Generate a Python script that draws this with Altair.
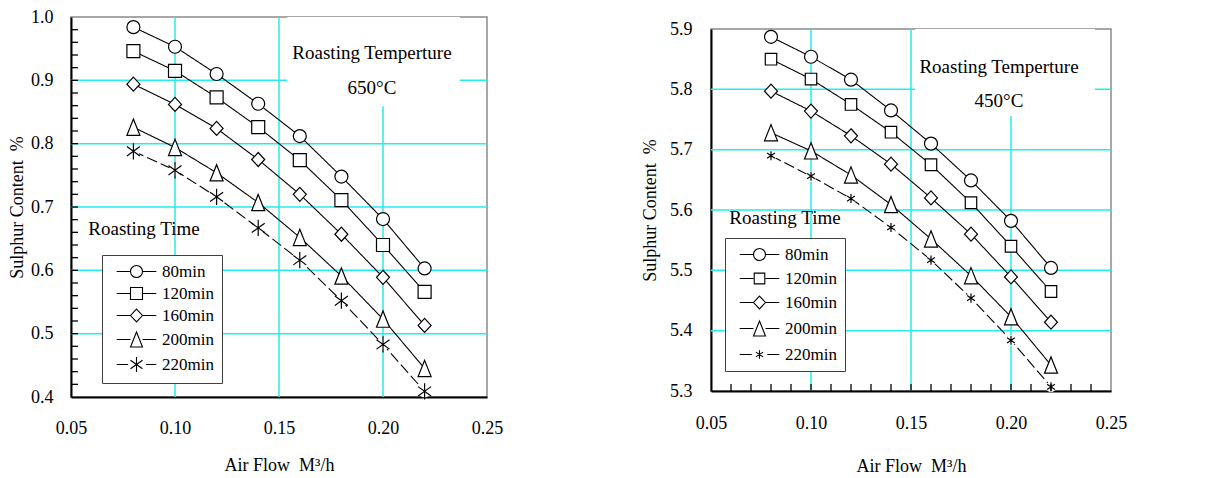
import altair as alt
import pandas as pd

# Air flow (M^3/h) at which each sample was taken
flow = [0.08, 0.10, 0.12, 0.14, 0.16, 0.18, 0.20, 0.22]
times = ["80min", "120min", "160min", "200min", "220min"]

# Sulphur content (%) after roasting at 650 °C
s650_80 = [0.984, 0.953, 0.910, 0.863, 0.812, 0.748, 0.681, 0.603]
s650_120 = [0.946, 0.915, 0.873, 0.826, 0.774, 0.711, 0.640, 0.566]
s650_160 = [0.894, 0.862, 0.824, 0.775, 0.720, 0.657, 0.589, 0.513]
s650_200 = [0.826, 0.794, 0.754, 0.707, 0.652, 0.591, 0.523, 0.445]
s650_220 = [0.788, 0.758, 0.716, 0.667, 0.616, 0.552, 0.483, 0.409]

# Sulphur content (%) after roasting at 450 °C
s450_80 = [5.887, 5.854, 5.816, 5.765, 5.710, 5.649, 5.582, 5.504]
s450_120 = [5.850, 5.817, 5.775, 5.729, 5.675, 5.612, 5.540, 5.465]
s450_160 = [5.797, 5.764, 5.723, 5.676, 5.620, 5.560, 5.489, 5.414]
s450_200 = [5.728, 5.698, 5.658, 5.609, 5.552, 5.491, 5.423, 5.343]
s450_220 = [5.690, 5.656, 5.619, 5.571, 5.517, 5.454, 5.384, 5.307]

x_ticks = [0.05, 0.10, 0.15, 0.20, 0.25]
x_grid = [0.10, 0.15, 0.20]
y_ticks_650 = [0.4, 0.5, 0.6, 0.7, 0.8, 0.9, 1.0]
y_grid_650 = [0.5, 0.6, 0.7, 0.8, 0.9]
y_minor_650 = [round(0.40 + 0.02 * i, 2) for i in range(1, 30)]
y_ticks_450 = [5.3, 5.4, 5.5, 5.6, 5.7, 5.8, 5.9]
y_grid_450 = [5.4, 5.5, 5.6, 5.7, 5.8]
x_minor_450 = [round(0.05 + 0.01 * i, 2) for i in range(1, 20)]

FONT = "Liberation Serif"
CYAN = "#22EEF0"
NBSP = "\u00a0"

# marker outlines (unit paths, scaled by the symbol size)
CIRCLE = "M-1,0A1,1 0 1,1 1,0A1,1 0 1,1 -1,0Z"
SQUARE = "M-1,-1L1,-1L1,1L-1,1Z"
SQUARE_S = "M-0.88,-0.9L0.88,-0.9L0.88,0.9L-0.88,0.9Z"
DIAMOND = "M0,-1.08L1,0L0,1.08L-1,0Z"
TRIANGLE = "M0,-1.25L1,1.25L-1,1.25Z"
STAR_L = "M0,-1.25L0,1.25M-1,-0.72L1,0.72M-1,0.72L1,-0.72"
STAR_S = "M0,-0.7L0,0.7M-0.6,-0.4L0.6,0.4M-0.6,0.4L0.6,-0.4"
# minor tick glyphs: a short stroke pointing into the plot
TICK_RIGHT = "M0,0L2,0"
TICK_UP = "M0,0L0,-2"


def lead(path, gap_l=1.0, gap_r=1.0, reach=3.3):
    """Legend glyph: a short line run through the marker."""
    return f"M{-reach},0L{-gap_l},0M{gap_r},0L{reach},0" + path


def panel(series, ydom, yticks, ygrid, temp_label, box, temp_pos, time_pos,
          markers, legend_marks, msize, mask_size, legend_xy, w, h,
          y_minor=None, x_minor=None, ylab_pad=18, ytitle_pad=4,
          xlab_pad=22, xtitle_pad=19, row_pad=4):
    rows = []
    for t, vals in zip(times, series):
        for f, v in zip(flow, vals):
            rows.append({"flow": f, "sulphur": v, "time": t})
    df = pd.DataFrame(rows)
    base = alt.Chart(df)

    xdom = [0.05, 0.25]
    xs = alt.Scale(domain=xdom, nice=False, zero=False)
    ys = alt.Scale(domain=ydom, nice=False, zero=False)

    common = dict(labelFont=FONT, titleFont=FONT, labelFontSize=18, titleFontSize=18,
                  titleFontWeight="normal", labelColor="black", titleColor="black",
                  labelFlush=False, labelOverlap=False, ticks=False,
                  domainColor="black", domainWidth=2, grid=False)
    # one axis definition per channel, shared by every layer so they merge
    x_axis = alt.Axis(values=x_ticks, format=".2f", title=f"Air Flow{NBSP}{NBSP}M³/h",
                      labelPadding=xlab_pad, titlePadding=xtitle_pad, **common)
    y_axis = alt.Axis(values=yticks, format=".1f", title=f"Sulphur Content{NBSP}{NBSP}%",
                      labelPadding=ylab_pad, titlePadding=ytitle_pad, **common)

    def X(field):
        return alt.X(field, scale=xs, axis=x_axis)

    def Y(field):
        return alt.Y(field, scale=ys, axis=y_axis)

    layers = []

    # cyan grid
    layers.append(alt.Chart(pd.DataFrame({"g": x_grid})).mark_rule(color=CYAN, strokeWidth=1.5).encode(
        x=X("g:Q"), y=alt.value(0), y2=alt.value(h)))
    layers.append(alt.Chart(pd.DataFrame({"g": ygrid})).mark_rule(color=CYAN, strokeWidth=1.5).encode(
        y=Y("g:Q"), x=alt.value(0), x2=alt.value(w)))

    # white panel behind the temperature note
    box_df = pd.DataFrame({"x1": [box[0]], "x2": [box[1]], "y1": [box[2]], "y2": [box[3]]})
    layers.append(alt.Chart(box_df).mark_rect(fill="white").encode(
        x=X("x1:Q"), x2="x2:Q", y=Y("y1:Q"), y2="y2:Q"))

    notes_df = pd.DataFrame({
        "x": [temp_pos[0], temp_pos[0], time_pos[0]],
        "y": [temp_pos[1], temp_pos[2], time_pos[1]],
        "label": ["Roasting Temperture", temp_label, "Roasting Time"],
    })
    layers.append(alt.Chart(notes_df).mark_text(font=FONT, fontSize=19, color="black",
                                                align="center", baseline="middle").encode(
        x=X("x:Q"), y=Y("y:Q"), text="label:N"))

    layers.append(base.mark_line(color="black", strokeWidth=1.1).encode(
        x=X("flow:Q"), y=Y("sulphur:Q"),
        detail="time:N",
        strokeDash=alt.StrokeDash("time:N", scale=alt.Scale(domain=times, range=[[1, 0]] * 4 + [[11, 4]]),
                                  legend=None)))

    layers.append(base.transform_filter(alt.datum.time == "220min").mark_point(
        filled=True, fill="white", opacity=1, size=mask_size, shape="circle").encode(
        x=X("flow:Q"), y=Y("sulphur:Q")))

    layers.append(base.mark_point(filled=True, fill="white", stroke="black", strokeWidth=1.2,
                                  opacity=1, size=msize).encode(
        x=X("flow:Q"), y=Y("sulphur:Q"),
        shape=alt.Shape("time:N", scale=alt.Scale(domain=times, range=markers), legend=None)))

    # inward minor ticks, drawn as short stroke glyphs anchored on the axis line
    if y_minor is not None:
        tk = pd.DataFrame({"v": y_minor, "a": [xdom[0]] * len(y_minor)})
        layers.append(alt.Chart(tk).mark_point(shape=TICK_RIGHT, filled=False, stroke="black",
                                               strokeWidth=1.3, opacity=1, size=49).encode(
            x=X("a:Q"), y=Y("v:Q")))
    if x_minor is not None:
        tk = pd.DataFrame({"v": x_minor, "a": [ydom[0]] * len(x_minor)})
        layers.append(alt.Chart(tk).mark_point(shape=TICK_UP, filled=False, stroke="black",
                                               strokeWidth=1.3, opacity=1, size=49).encode(
            x=X("v:Q"), y=Y("a:Q")))

    layers.append(base.transform_filter("false").mark_point(
        filled=True, fill="white", stroke="black", strokeWidth=1.1, opacity=1).encode(
        x=X("flow:Q"), y=Y("sulphur:Q"),
        shape=alt.Shape("time:N", scale=alt.Scale(domain=times, range=legend_marks),
                        legend=alt.Legend(orient="none", legendX=legend_xy[0], legendY=legend_xy[1],
                                          title=None, fillColor="white", strokeColor="#404040",
                                          padding=8, labelFont=FONT, labelFontSize=17,
                                          labelColor="black", symbolSize=144,
                                          symbolStrokeWidth=1.1, symbolOffset=18,
                                          labelOffset=17, rowPadding=row_pad))))

    return alt.layer(*layers).resolve_scale(shape="independent").properties(width=w, height=h)


left = panel(
    [s650_80, s650_120, s650_160, s650_200, s650_220],
    [0.4, 1.0], y_ticks_650, y_grid_650, "650°C",
    box=(0.154, 0.237, 1.0, 0.859),
    temp_pos=(0.1947, 0.943, 0.888), time_pos=(0.0851, 0.665),
    markers=[CIRCLE, SQUARE, DIAMOND, TRIANGLE, STAR_L],
    legend_marks=[lead(CIRCLE), lead(SQUARE), lead(DIAMOND), lead(TRIANGLE),
                  lead(STAR_L, 1.4, 1.6)],
    msize=169, mask_size=150, legend_xy=(31, 238), w=416, h=380,
    y_minor=y_minor_650, row_pad=4)

right = panel(
    [s450_80, s450_120, s450_160, s450_200, s450_220],
    [5.3, 5.9], y_ticks_450, y_grid_450, "450°C",
    box=(0.152, 0.242, 5.9, 5.756),
    temp_pos=(0.194, 5.8375, 5.781), time_pos=(0.087, 5.587),
    markers=[CIRCLE, SQUARE_S, DIAMOND, TRIANGLE, STAR_S],
    legend_marks=[lead(CIRCLE), lead(SQUARE_S), lead(DIAMOND), lead(TRIANGLE),
                  lead(STAR_S, 1.3, 1.3)],
    msize=169, mask_size=110, legend_xy=(14, 209), w=400, h=362,
    x_minor=x_minor_450, ylab_pad=19, ytitle_pad=10, xlab_pad=23, xtitle_pad=25,
    row_pad=6)

# empty strip that sets the right panel a little lower than the left one
spacer = alt.Chart(pd.DataFrame({"s": [0]})).mark_rule(strokeOpacity=0).encode(
    x=alt.value(0), x2=alt.value(1), y=alt.value(0)).properties(
    width=1, height=1, view=alt.ViewConfig(stroke="transparent"))

chart = alt.hconcat(left, alt.vconcat(spacer, right, spacing=0), spacing=136).properties(
    padding={"left": 7, "top": 7, "right": 5, "bottom": 5}
).configure(font=FONT, background="white").configure_view(
    stroke="#8a8a8a", strokeWidth=1.5).configure_axis(
    labelFont=FONT, titleFont=FONT, labelFontSize=18, titleFontSize=18,
    titleFontWeight="normal", labelColor="black", titleColor="black").configure_legend(
    labelFont=FONT, labelFontSize=17, labelColor="black")

chart.save("out.html", embed_options={"renderer": "svg", "actions": False})
